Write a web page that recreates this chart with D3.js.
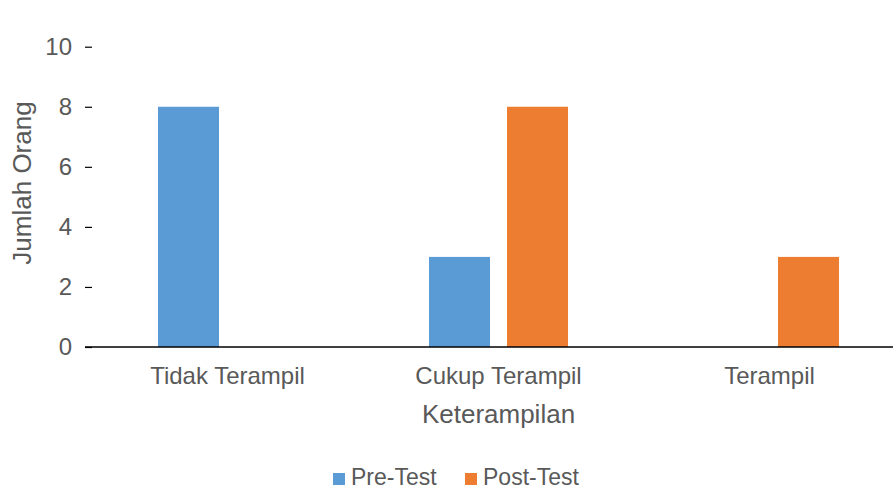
<!DOCTYPE html>
<html>
<head>
  <script src="https://cdnjs.cloudflare.com/ajax/libs/d3/7.8.5/d3.min.js"></script>
  <style>
    body { margin: 0; background: #fff; }
    text { font-family: "Liberation Sans", Arial, sans-serif; fill: #595959; }
  </style>
</head>
<body>
<svg width="893" height="491"></svg>
<script>
var categories = ["Tidak Terampil", "Cukup Terampil", "Terampil"];
var seriesNames = ["Pre-Test", "Post-Test"];
var preTest = [8, 3, 0];
var postTest = [0, 8, 3];
var yTicks = [0, 2, 4, 6, 8, 10];
var colors = ["#5b9bd5", "#ed7d31"];

var svg = d3.select("svg"),
    left = 92, right = 905, top = 17, bottom = 347;

var x = d3.scaleBand()
    .domain(categories)
    .range([left, right])
    .paddingInner(0.487)
    .paddingOuter(0.2435);

var x1 = d3.scaleBand()
    .domain(seriesNames)
    .range([0, x.bandwidth()])
    .paddingInner(0.218);

var y = d3.scaleLinear()
    .domain([0, 10])
    .range([bottom, 46.7]);

var data = categories.map(function(c, i) {
  return { cat: c, vals: [preTest[i], postTest[i]] };
});

// bars
svg.append("g").selectAll("g")
    .data(data)
  .enter().append("g")
    .attr("transform", function(d) { return "translate(" + x(d.cat) + ",0)"; })
  .selectAll("rect")
    .data(function(d) { return d.vals.map(function(v, j) { return { s: seriesNames[j], v: v, j: j }; }); })
  .enter().append("rect")
    .attr("x", function(d) { return x1(d.s); })
    .attr("width", x1.bandwidth())
    .attr("y", function(d) { return y(d.v); })
    .attr("height", function(d) { return bottom - y(d.v); })
    .attr("fill", function(d) { return colors[d.j]; });

// y axis
var yAxis = svg.append("g")
    .attr("transform", "translate(" + left + ",0)")
    .call(d3.axisLeft(y).tickValues(yTicks).tickSize(7).tickPadding(13));
yAxis.select(".domain").attr("d", "M0," + top + "V" + bottom).attr("stroke", "#000").attr("stroke-width", 1.3);
yAxis.selectAll(".tick line").attr("stroke", "#000").attr("stroke-width", 1.2);
yAxis.selectAll(".tick text").style("font-size", "24px").attr("fill", "#595959").style("font-family", "Liberation Sans, Arial, sans-serif");

// x axis
var xAxis = svg.append("g")
    .attr("transform", "translate(0," + bottom + ")")
    .call(d3.axisBottom(x).tickSize(0).tickPadding(20));
xAxis.select(".domain").attr("d", "M" + (left - 7) + ",0H893").attr("stroke", "#000").attr("stroke-width", 1.5);
xAxis.selectAll(".tick text").style("font-size", "24px").attr("fill", "#595959").style("font-family", "Liberation Sans, Arial, sans-serif");

// axis titles
svg.append("text")
    .attr("x", x("Cukup Terampil") + x.bandwidth() / 2)
    .attr("y", 423)
    .attr("text-anchor", "middle")
    .style("font-size", "26px")
    .text("Keterampilan");

svg.append("text")
    .attr("transform", "translate(31,183) rotate(-90)")
    .attr("text-anchor", "middle")
    .style("font-size", "26px")
    .text("Jumlah Orang");

// legend
var legendX = [333, 465];
var legend = svg.append("g").selectAll("g")
    .data(seriesNames)
  .enter().append("g")
    .attr("transform", function(d, i) { return "translate(" + legendX[i] + ",473)"; });
legend.append("rect")
    .attr("y", 0)
    .attr("width", 12)
    .attr("height", 12)
    .attr("fill", function(d, i) { return colors[i]; });
legend.append("text")
    .attr("x", 18)
    .attr("y", 12)
    .style("font-size", "23px")
    .text(function(d) { return d; });
</script>
</body>
</html>
